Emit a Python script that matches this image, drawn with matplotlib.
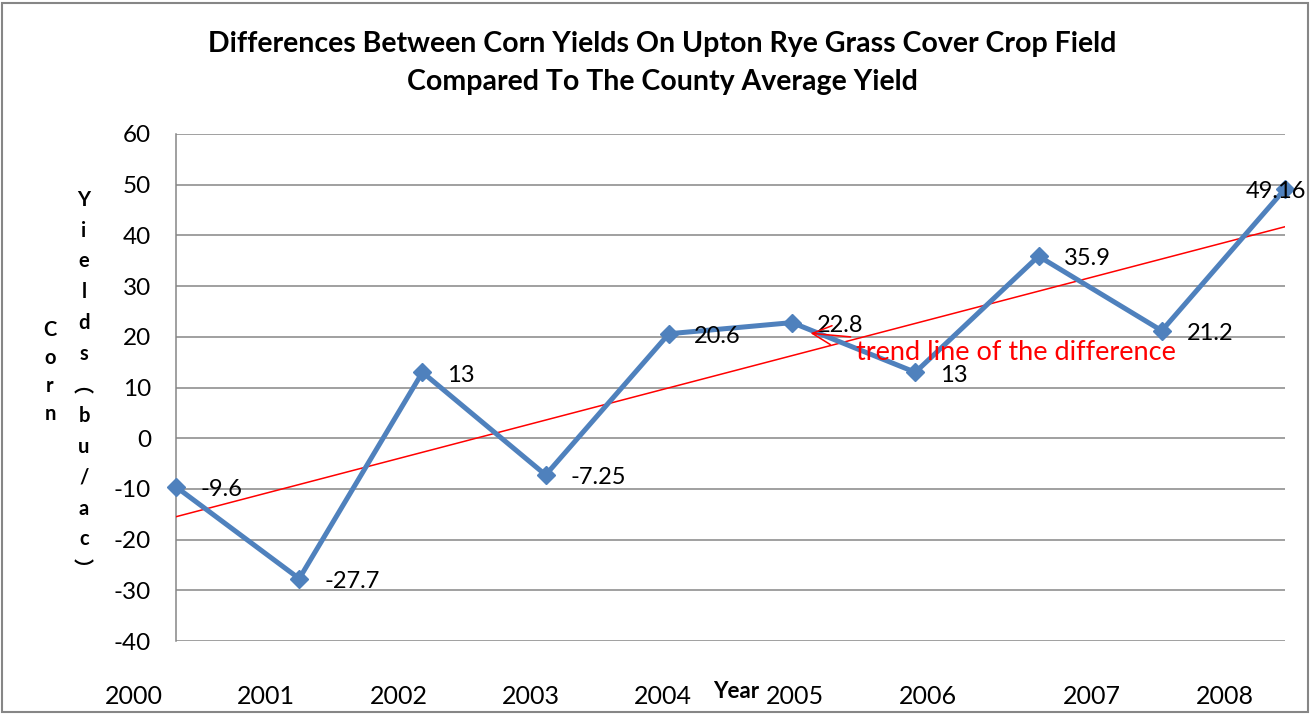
import matplotlib
matplotlib.use('Agg')

import matplotlib.pyplot as plt
import matplotlib.transforms as mtransforms
from matplotlib.patches import Rectangle
import numpy as np

plt.rcParams['font.family'] = ['Lato', 'Noto Sans CJK SC', 'DejaVu Sans']
plt.rcParams['axes.unicode_minus'] = False

# Dados
diferencas = [-9.6, -27.7, 13, -7.25, 20.6, 22.8, 13, 35.9, 21.2, 49.16]
rotulos_dados = ['-9.6', '-27.7', '13', '-7.25', '20.6', '22.8', '13', '35.9', '21.2', '49.16']
anos = ['2000', '2001', '2002', '2003', '2004', '2005', '2006', '2007', '2008']
# posição (em unidades de categoria) onde cada ano aparece escrito
pos_anos = [-0.34, 0.73, 1.81, 2.88, 3.95, 5.02, 6.10, 7.43, 8.51]
yticks = [-40, -30, -20, -10, 0, 10, 20, 30, 40, 50, 60]

W, H = 1314, 717
fig = plt.figure(figsize=(W / 100, H / 100), dpi=100)
ax = fig.add_axes([176 / W, 76 / H, (1285 - 176) / W, (641 - 134) / H])

x = np.arange(len(diferencas))

# linha de tendência (regressão linear)
a, b = np.polyfit(x, diferencas, 1)
ax.plot(x, a * x + b, color='red', lw=1.1, zorder=3)

ax.plot(x, diferencas, color='#4F81BD', lw=3.6, marker='D', ms=9.5,
        mec='#4F81BD', mfc='#4F81BD', zorder=4, clip_on=False)

for i, (v, t) in enumerate(zip(diferencas, rotulos_dados)):
    dx = 18 if i < len(diferencas) - 1 else -28
    ax.annotate(t, (i, v), xytext=(dx, -2), textcoords='offset points',
                ha='left', va='center', fontsize=17, color='black', zorder=5)

ax.annotate('trend line of the difference', xy=(5.15, 20.7), xytext=(5.52, 17.0),
            ha='left', va='center', fontsize=19.5, color='red',
            arrowprops=dict(arrowstyle='->,head_length=0.7,head_width=0.35',
                            color='red', lw=1.1, shrinkA=2, shrinkB=0), zorder=6)

ax.set_xlim(0, len(diferencas) - 1)
ax.set_ylim(-40, 60)
ax.set_yticks(yticks)
ax.set_xticks([])
ax.grid(axis='y', color='#868686', lw=1.1)
ax.set_axisbelow(True)
ax.tick_params(axis='y', length=0, pad=18, labelsize=17.5)
for s in ['top', 'right', 'bottom']:
    ax.spines[s].set_visible(False)
ax.spines['left'].set_color('#868686')
ax.spines['left'].set_linewidth(1.1)

# anos escritos abaixo do gráfico
trans = mtransforms.blended_transform_factory(ax.transData, fig.transFigure)
for p, ano in zip(pos_anos, anos):
    ax.text(p, 1 - 697 / H, ano, transform=trans, ha='center', va='center',
            fontsize=18, clip_on=False)
ax.text(4.55, 1 - 692 / H, 'Year', transform=trans, ha='center', va='center',
        fontsize=16, fontweight='bold', clip_on=False)

# título
fig.text(662 / W, 1 - 44 / H, 'Differences Between Corn Yields On Upton Rye Grass Cover Crop Field',
         ha='center', va='center', fontsize=20.5, fontweight='bold')
fig.text(662 / W, 1 - 82 / H, 'Compared To The County Average Yield',
         ha='center', va='center', fontsize=20.5, fontweight='bold')

# rótulo do eixo y (letras empilhadas)
fig.text(50 / W, 1 - 372 / H, '\n'.join('Corn'), ha='center', va='center',
         fontsize=14.5, fontweight='bold', linespacing=1.5)
fig.text(84 / W, 1 - 385 / H, '\n'.join('Yields︵bu/ac︶'), ha='center', va='center',
         fontsize=14.5, fontweight='bold', linespacing=1.68)

# moldura da figura
fig.patches.append(Rectangle((2 / W, 5 / H), 1306 / W, 709 / H, transform=fig.transFigure,
                             fill=False, edgecolor='#868686', lw=1.5))

fig.savefig('out.png', dpi=100)
